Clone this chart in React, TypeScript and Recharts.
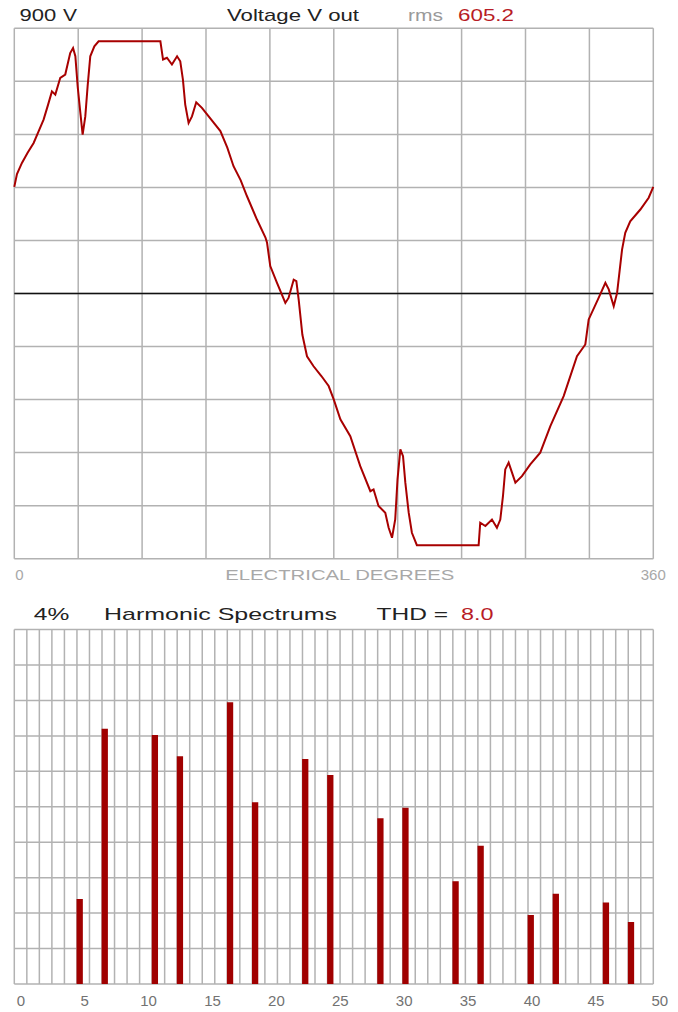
import React from 'react';
import {
  LineChart,
  Line,
  XAxis,
  YAxis,
  CartesianGrid,
  ReferenceLine,
  BarChart,
  Bar,
  Label,
} from 'recharts';

// ---- Voltage waveform (electrical degrees vs volts) ----
const waveDegrees = [
  0, 1.5, 4.3, 7.5, 10.9, 13.5, 16.5, 19, 21.2, 23.1, 25.9, 28.7, 31.5, 33.1, 34.4, 35.7, 37.2, 38.5,
  40, 41.3, 42.8, 45.1, 47.5, 82.3, 83.8, 86, 88.8, 91.7, 93.5, 95, 96.3, 98.2, 100.1, 102.5, 105.7,
  109.5, 116.1, 120, 123.5, 127.5, 131.1, 136.7, 141.5, 142.4, 144.2, 148, 152.7, 154.5, 157.4,
  158.9, 160.2, 162.3, 164.9, 168.6, 173, 177.1, 180, 183.7, 189.3, 194.9, 200.6, 202.4, 205.2, 209,
  210.9, 212.8, 214.6, 215.9, 217.5, 219, 220.3, 222.2, 224, 226.8, 261.6, 262.5, 265.4, 269.1,
  271.9, 273.8, 275.3, 276.6, 278.5, 280.4, 282.3, 286, 290.7, 296.3, 302, 309.5, 317, 321.7, 323.6,
  329.2, 333, 334.9, 337.7, 339.6, 341.1, 342.4, 344.2, 347, 352.7, 357.4, 360,
];
const waveVolts = [
  362, 405, 443, 478, 511, 548, 590, 640, 686, 675, 732, 743, 816, 833, 805, 703, 614, 539,
  601, 703, 805, 839, 856, 856, 794, 800, 777, 805, 788, 726, 641, 579, 601, 649, 630,
  601, 551, 495, 432, 385, 330, 251, 190, 172, 93, 36, -32, -15, 47,
  42, -20, -140, -213, -247, -280, -314, -360, -427, -484, -586, -671, -665, -721, -744,
  -795, -829, -767, -631, -529, -552, -642, -744, -812, -854, -854, -778, -789, -767,
  -795, -767, -688, -597, -574, -608, -642, -620, -580, -540, -450, -348, -213, -173, -88,
  -15, 36, 14, -43, 2, 81, 149, 206, 245, 285, 325, 362,
];
const degreeTicks = [0, 36, 72, 108, 144, 180, 216, 252, 288, 324, 360];
const voltTicks = [-900, -720, -540, -360, -180, 0, 180, 360, 540, 720, 900];

// ---- Harmonic spectrum (order vs % of fundamental) ----
const harmonicOrders = [5, 7, 11, 13, 17, 19, 23, 25, 29, 31, 35, 37, 41, 43, 47, 49];
const harmonicPercents = [
  0.96, 2.88, 2.81, 2.57, 3.18, 2.05, 2.54, 2.36, 1.87, 1.99, 1.16, 1.56, 0.78, 1.02, 0.92, 0.7,
];
const harmonicLabelTicks = [0, 5, 10, 15, 20, 25, 30, 35, 40, 45, 50];
const percentTicks = [0, 0.4, 0.8, 1.2, 1.6, 2, 2.4, 2.8, 3.2, 3.6, 4];
const columnTicks = Array.from({ length: 52 }, (_, i) => i - 0.25);

const waveData = waveDegrees.map((deg, i) => ({ deg, v: waveVolts[i] }));
const spectrumData = harmonicOrders.map((h, i) => ({ h, p: harmonicPercents[i] }));

const FONT = '"Liberation Sans", Arial, sans-serif';
const GRID = '#b2b2b2';
const RED_LINE = '#a80000';
const RED_BAR = '#a00000';
const RED_TEXT = '#b81c26';

const EmptyTick = () => <g />;

const DegTick = (props: any) => {
  const { x, y, payload } = props;
  if (payload.value === 0) {
    return (
      <text x={x + 1} y={y + 21} textAnchor="start" fontSize={15} fontFamily={FONT} fill="#a8a8a8">
        0
      </text>
    );
  }
  if (payload.value === 360) {
    return (
      <text x={x} y={y + 21} textAnchor="middle" fontSize={15} fontFamily={FONT} fill="#a8a8a8">
        360
      </text>
    );
  }
  return <g />;
};

const HarmTick = (props: any) => {
  const { x, y, payload } = props;
  return (
    <text x={x + 6.5} y={y + 22} textAnchor="middle" fontSize={15} fontFamily={FONT} fill="#727272">
      {payload.value}
    </text>
  );
};

const T = (p: {
  x: number;
  y: number;
  w: number;
  fill: string;
  size?: number;
  children: React.ReactNode;
}) => (
  <text
    x={p.x}
    y={p.y}
    textLength={p.w}
    lengthAdjust="spacingAndGlyphs"
    fontSize={p.size ?? 17}
    fontFamily={FONT}
    fill={p.fill}
  >
    {p.children}
  </text>
);

export default function App() {
  return (
    <div
      style={{
        position: 'absolute',
        left: 0,
        top: 0,
        width: 678,
        height: 1012,
        background: '#fff',
        overflow: 'hidden',
      }}
    >
      <div style={{ position: 'absolute', left: 0, top: 0 }}>
        <LineChart
          width={678}
          height={590}
          data={waveData}
          margin={{ top: 28.3, right: 24.7, bottom: 11.3, left: 14.3 }}
        >
          <CartesianGrid stroke={GRID} strokeWidth={1.5} />
          <XAxis
            dataKey="deg"
            type="number"
            domain={[0, 360]}
            ticks={degreeTicks}
            interval={0}
            height={20}
            axisLine={false}
            tickLine={false}
            tickSize={0}
            tickMargin={0}
            tick={<DegTick />}
          >
            <Label
              content={(lp: any) => {
                const vb = lp.viewBox || { x: 14.3, y: 558.7, width: 639 };
                const cx = vb.x + vb.width / 2 + 6;
                return (
                  <text
                    x={cx - 114.5}
                    y={vb.y + 21}
                    textLength={229}
                    lengthAdjust="spacingAndGlyphs"
                    fontSize={15}
                    fontFamily={FONT}
                    fill="#a8a8a8"
                  >
                    ELECTRICAL DEGREES
                  </text>
                );
              }}
            />
          </XAxis>
          <YAxis
            type="number"
            domain={[-900, 900]}
            ticks={voltTicks}
            interval={0}
            width={0}
            tick={<EmptyTick />}
            axisLine={false}
            tickLine={false}
          />
          <ReferenceLine y={0} stroke="#111" strokeWidth={1.5} />
          <Line
            dataKey="v"
            type="linear"
            stroke={RED_LINE}
            strokeWidth={2}
            dot={false}
            isAnimationActive={false}
          />
        </LineChart>
      </div>

      <div style={{ position: 'absolute', left: 0, top: 590 }}>
        <BarChart
          width={678}
          height={422}
          data={spectrumData}
          margin={{ top: 39.6, right: 24.7, bottom: 0, left: 14.3 }}
        >
          <CartesianGrid stroke={GRID} strokeWidth={1.5} xAxisId="grid" yAxisId="pct" />
          <XAxis
            xAxisId="grid"
            dataKey="h"
            type="number"
            domain={[-0.25, 50.75]}
            allowDataOverflow
            ticks={columnTicks}
            interval={0}
            height={0}
            tick={<EmptyTick />}
            axisLine={false}
            tickLine={false}
          />
          <XAxis
            xAxisId="lab"
            dataKey="h"
            type="number"
            domain={[0, 50]}
            allowDataOverflow
            ticks={harmonicLabelTicks}
            interval={0}
            height={28}
            axisLine={false}
            tickLine={false}
            tickSize={0}
            tickMargin={0}
            tick={<HarmTick />}
          />
          <YAxis
            yAxisId="pct"
            type="number"
            domain={[0, 4]}
            allowDataOverflow
            ticks={percentTicks}
            interval={0}
            width={0}
            tick={<EmptyTick />}
            axisLine={false}
            tickLine={false}
          />
          <Bar
            dataKey="p"
            xAxisId="grid"
            yAxisId="pct"
            fill={RED_BAR}
            barSize={6.3}
            isAnimationActive={false}
          />
        </BarChart>
      </div>

      <svg
        width={678}
        height={1012}
        style={{ position: 'absolute', left: 0, top: 0, pointerEvents: 'none' }}
      >
        <T x={19.6} y={21} w={36.7} fill="#222">900</T>
        <T x={63} y={21} w={14} fill="#222">V</T>
        <T x={227} y={21} w={132} fill="#222">Voltage V out</T>
        <T x={408} y={21} w={35} fill="#9a9a9a">rms</T>
        <T x={458} y={21} w={56} fill={RED_TEXT}>605.2</T>

        <T x={33.8} y={619.5} w={35.5} fill="#222">4%</T>
        <T x={104} y={619.5} w={233} fill="#222">Harmonic Spectrums</T>
        <T x={376.6} y={619.5} w={71.4} fill="#222">THD =</T>
        <T x={461} y={619.5} w={32.5} fill={RED_TEXT}>8.0</T>
      </svg>
    </div>
  );
}
